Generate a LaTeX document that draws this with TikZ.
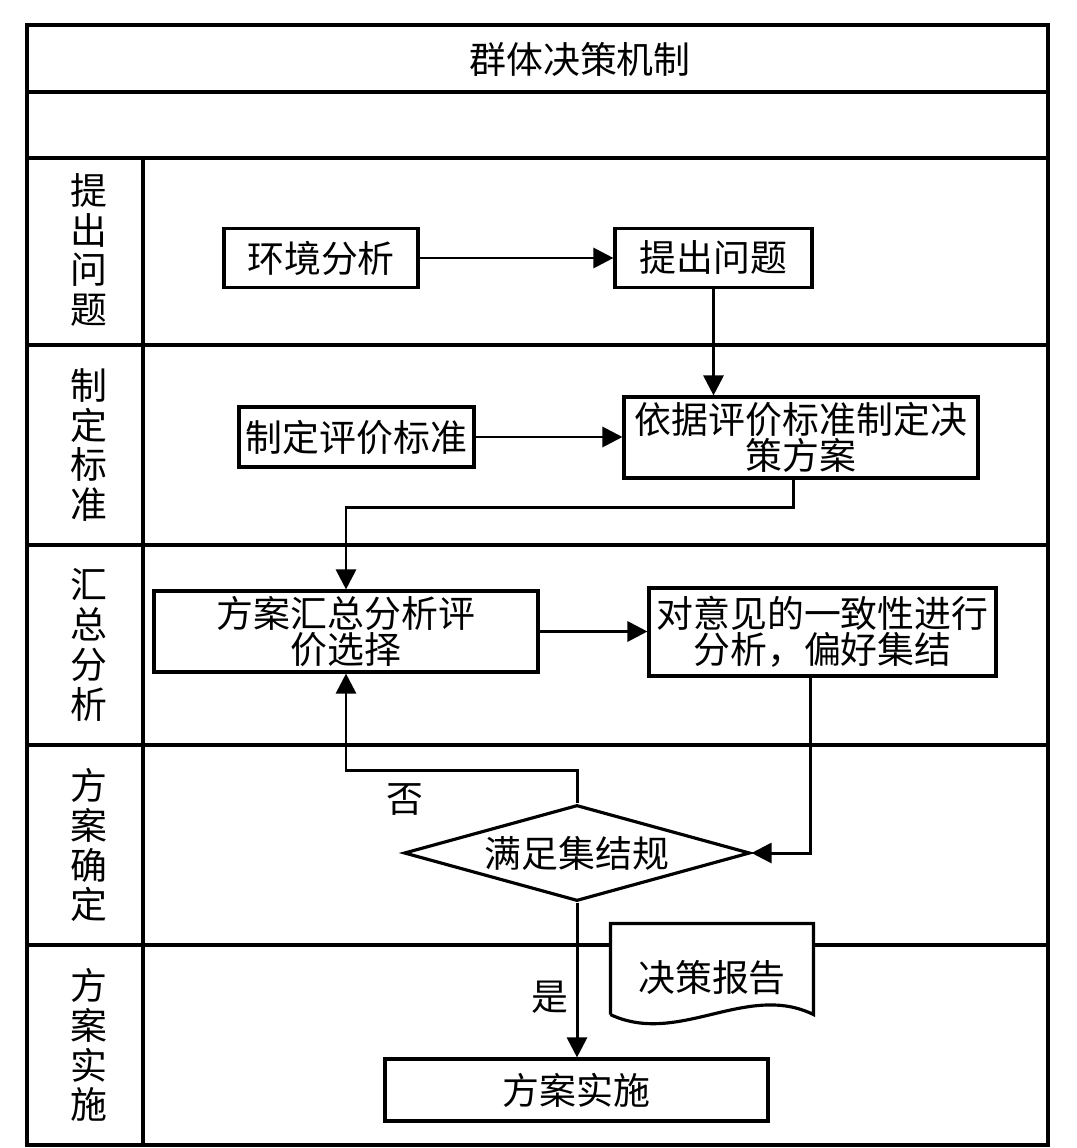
\documentclass[tikz,border=0pt]{standalone}
\usepackage{fontspec}
\setmainfont{Noto Sans CJK SC}
\usetikzlibrary{shapes,arrows.meta,positioning}

\begin{document}
\begin{tikzpicture}[x=0.02cm, y=-0.02cm, font=\fontsize{21}{22.7}\selectfont]
			\tikzstyle{Box}		= [rectangle, draw, line width=1.8pt, fill=white, inner sep=0pt, align=center, font=\fontsize{21}{18}\selectfont]
			\tikzstyle{Lane}	= [align=center]
			\tikzstyle{Flow}	= [line width=1.7pt, -{Triangle[length=0.4cm, width=0.4cm]}]
			\tikzstyle{Frame}	= [line width=1.9pt]
			
			\useasboundingbox (0,0) rectangle (1076,1148);
			
			\draw[Frame] (27,25) rectangle (1048,1145);
			\foreach \y in {92,158,345,545,745,945} \draw[Frame] (27,\y) -- (1048,\y);
			\draw[Frame] (143,158) -- (143,1145);
			
			\node (title) at (580,59) {群体决策机制};
			
			\node (l1) at (89,250) [Lane] {提\\出\\问\\题};
			\node (l2) at (89,445) [Lane] {制\\定\\标\\准};
			\node (l3) at (89,645) [Lane] {汇\\总\\分\\析};
			\node (l4) at (89,845) [Lane] {方\\案\\确\\定};
			\node (l5) at (89,1045) [Lane] {方\\案\\实\\施};
			
			\node (env) at (321,258) [Box, minimum width=3.88cm, minimum height=1.18cm] {环境分析};
			\node (ask) at (713.5,258) [Box, minimum width=3.94cm, minimum height=1.18cm] {提出问题};
			\node (std) at (356.5,437) [Box, minimum width=4.7cm, minimum height=1.2cm] {制定评价标准};
			\node (plan) at (801,437.5) [Box, minimum width=7.08cm, minimum height=1.62cm] {依据评价标准制定决\\策方案};
			\node (sum) at (346,631.5) [Box, minimum width=7.68cm, minimum height=1.62cm] {方案汇总分析评\\价选择};
			\node (agree) at (822.5,632) [Box, minimum width=6.94cm, minimum height=1.76cm] {对意见的一致性进行\\分析，偏好集结};
			\node (check) at (577,853) [Box, diamond, aspect=3.6, minimum width=6.92cm, minimum height=1.92cm] {满足集结规};
			\node (doc) at (712,969) [Box, draw=none, minimum width=4cm, minimum height=1.76cm] {\raisebox{-5pt}[\height][\depth]{决策报告}};
			\node (impl) at (576.5,1090) [Box, minimum width=7.66cm, minimum height=1.24cm] {方案实施};
			
			\draw[line width=1.8pt] (doc.south west) -- (doc.north west) -- (doc.north east) -- (doc.south east) .. controls +(-67,-33) and +(68,32) .. (doc.south west);
			
			\draw[Flow] (env) -- (ask);
			\draw[Flow] (ask.south) -- (ask.south |- plan.north);
			\draw[Flow] (std.east) -- (std.east -| plan.west);
			\draw[Flow] ([xshift=-0.16cm]plan.south) -- ++(0,28) -| (sum.north);
			\draw[Flow] (sum.east) -- (sum.east -| agree.west);
			\draw[Flow] ([xshift=-0.25cm]agree.south) |- (check.east);
			\draw[Flow] (check.north) -- ++(0,-33) -| (sum.south);
			\draw[Flow] (check.south) -- (check.south |- impl.north);
			
			\node (no) at (405,800) {否};
			\node (yes) at (550,997) {是};
		\end{tikzpicture}
\end{document}
